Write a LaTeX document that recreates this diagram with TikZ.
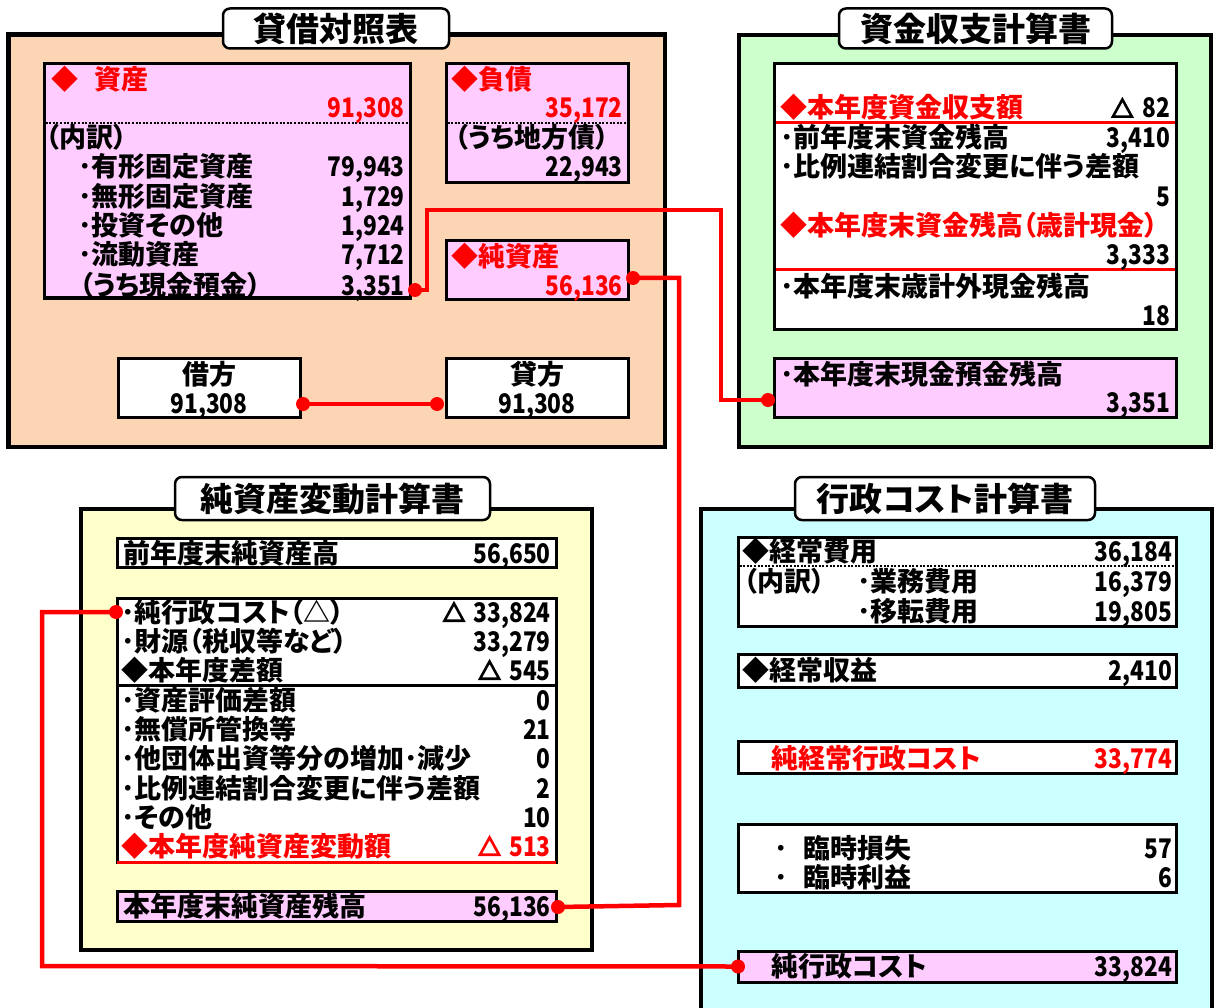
\documentclass[tikz,border=0pt]{standalone}
\usepackage{fontspec}
\setmainfont{Noto Sans CJK JP}[RawFeature={+palt}]
\newcommand{\nm}[1]{\scalebox{0.84}[1]{#1}}
\newcommand{\tri}{\tikz[baseline=0pt, x=1pt, y=1pt]\draw[line width=2.6pt, line join=miter] (1.5,1.3)--(20.5,1.3)--(11,18.5)--cycle;}
\definecolor{peach}{HTML}{FCD5B4}
\definecolor{pinkf}{HTML}{FFCCFF}
\definecolor{greenf}{HTML}{CCFFCC}
\definecolor{yellowf}{HTML}{FFFFCC}
\definecolor{cyanf}{HTML}{CCFFFF}
\definecolor{redc}{HTML}{FF0000}
\tikzset{
  panel/.style={draw=black, line width=4.5pt},
  ibox/.style={draw=black, line width=3pt, inner sep=0pt, outer sep=0pt},
  ttl/.style={draw=black, fill=white, line width=2.5pt, rounded corners=7pt, inner sep=0pt,
              font=\fontsize{33}{36}\selectfont\bfseries},
  lt/.style={anchor=west, inner sep=0pt, text height=20pt, text depth=0pt},
  rt/.style={anchor=east, inner sep=0pt, text height=20pt, text depth=0pt},
  ct/.style={anchor=center, inner sep=0pt, text height=20pt, text depth=0pt},
  rd/.style={text=redc},
  link/.style={draw=redc, line width=4.5pt},
  dotn/.style={circle, fill=redc, inner sep=0pt, minimum size=14pt},
  dotline/.style={draw=black, line width=2pt, dash pattern=on 2pt off 1.6pt},
  redline/.style={draw=redc, line width=3pt}
}
\begin{document}
\begin{tikzpicture}[x=1pt, y=-1pt, font=\fontsize{27}{30}\selectfont\bfseries]
\useasboundingbox (0,0) rectangle (1215,1008);
\fill[white] (0,0) rectangle (1215,1008);

% ---------- panels ----------
\draw[panel, fill=peach] (8.5,34.5) rectangle (665,447);
\draw[panel, fill=greenf] (739,35) rectangle (1211,447);
\draw[panel, fill=yellowf] (81,509) rectangle (592,950);
\draw[panel, fill=cyanf] (701,509) rectangle (1212,1020);

% ---------- titles ----------
\node[ttl, minimum width=226pt, minimum height=40pt] (t1) at (336,28.5) {貸借対照表};
\node[ttl, minimum width=273pt, minimum height=40pt] (t2) at (975.5,28.5) {資金収支計算書};
\node[ttl, minimum width=315pt, minimum height=43pt] (t3) at (332.5,498.5) {純資産変動計算書};
\node[ttl, minimum width=300pt, minimum height=43pt] (t4) at (945,498.5) {行政コスト計算書};

% ---------- balance sheet ----------
\node[ibox, fill=pinkf, minimum width=366pt, minimum height=234pt] (shisan) at (227,181) {};
\node[ibox, fill=pinkf, minimum width=182pt, minimum height=119pt] (fusai) at (537,123.5) {};
\node[ibox, fill=pinkf, minimum width=182pt, minimum height=58pt] (junshisan) at (537,270) {};
\node[ibox, fill=white, minimum width=182pt, minimum height=59pt] (karikata) at (209,387.5) {};
\node[ibox, fill=white, minimum width=182pt, minimum height=59pt] (kashikata) at (537,387.5) {};
\draw[dotline] (45.5,123) -- (408.5,123);
\draw[dotline] (447.5,123) -- (626.5,123);

\node[lt, rd] at (51,80) {◆\hspace{16pt}資産};
\node[rt, rd] at (405,108) {\nm{91,308}};
\node[lt] at (46,138) {（内訳）};
\node[lt] at (78,167) {･有形固定資産};  \node[rt] at (405,167) {\nm{79,943}};
\node[lt] at (78,197) {･無形固定資産};  \node[rt] at (405,197) {\nm{1,729}};
\node[lt] at (78,226) {･投資その他};    \node[rt] at (405,226) {\nm{1,924}};
\node[lt] at (78,255) {･流動資産};      \node[rt] at (405,255) {\nm{7,712}};
\node[lt] at (80,285) {（うち現金預金）}; \node[rt] at (405,285) {\nm{3,351}};

\node[lt, rd] at (451,80) {◆負債};
\node[rt, rd] at (623,108) {\nm{35,172}};
\node[lt] at (455,138) {（うち地方債）};
\node[rt] at (623,167) {\nm{22,943}};

\node[lt, rd] at (451,257) {◆純資産};
\node[rt, rd] at (623,285) {\nm{56,136}};

\node[ct] at (209,374) {借方};  \node[ct] at (209,403) {\nm{91,308}};
\node[ct] at (537,374) {貸方};  \node[ct] at (537,403) {\nm{91,308}};

% ---------- cash flow ----------
\node[ibox, fill=white, minimum width=402pt, minimum height=265pt] (shikin) at (975,196.5) {};
\node[ibox, fill=pinkf, minimum width=402pt, minimum height=59pt] (genkin) at (975,387.5) {};
\draw[redline] (775.5,123) -- (1174.5,123);
\draw[redline] (775.5,270) -- (1174.5,270);

\node[lt, rd] at (780,108) {◆本年度資金収支額};  \node[rt] at (1170,108) {\tri\hspace{9pt}\nm{82}};
\node[lt] at (780,138) {･前年度末資金残高};      \node[rt] at (1170,138) {\nm{3,410}};
\node[lt] at (780,167) {･比例連結割合変更に伴う差額};
\node[rt] at (1170,197) {\nm{5}};
\node[lt, rd] at (780,226) {◆本年度末資金残高（歳計現金）};
\node[rt] at (1170,255) {\nm{3,333}};
\node[lt] at (780,286) {･本年度末歳計外現金残高};
\node[rt] at (1170,315) {\nm{18}};
\node[lt] at (780,374) {･本年度末現金預金残高};
\node[rt] at (1170,402) {\nm{3,351}};

% ---------- net assets change ----------
\node[ibox, fill=white, minimum width=439pt, minimum height=29pt] (zennendo) at (336.5,552.5) {};
\node[ibox, fill=white, minimum width=439pt, minimum height=87pt] (sagaku) at (336.5,641.5) {};
\node[ibox, fill=white, minimum width=439pt, minimum height=177pt] (hendo) at (336.5,773.5) {};
\node[ibox, fill=pinkf, minimum width=439pt, minimum height=30pt] (zandaka) at (336.5,906) {};
\draw[redline] (117,862) -- (556,862);

\node[lt] at (123,553) {前年度末純資産高};            \node[rt] at (551,553) {\nm{56,650}};
\node[lt] at (121,612) {･純行政コスト（△）};          \node[rt] at (551,612) {\tri\hspace{9pt}\nm{33,824}};
\node[lt] at (121,641) {･財源（税収等など）};          \node[rt] at (551,641) {\nm{33,279}};
\node[lt] at (121,670) {◆本年度差額};                  \node[rt] at (551,670) {\tri\hspace{9pt}\nm{545}};
\node[lt] at (121,700) {･資産評価差額};                \node[rt] at (551,700) {\nm{0}};
\node[lt] at (121,729) {･無償所管換等};                \node[rt] at (551,729) {\nm{21}};
\node[lt] at (121,758) {･他団体出資等分の増加･減少};  \node[rt] at (551,758) {\nm{0}};
\node[lt] at (121,788) {･比例連結割合変更に伴う差額};  \node[rt] at (551,788) {\nm{2}};
\node[lt] at (121,817) {･その他};                      \node[rt] at (551,817) {\nm{10}};
\node[lt, rd] at (121,846) {◆本年度純資産変動額};      \node[rt, rd] at (551,846) {\tri\hspace{9pt}\nm{513}};
\node[lt] at (123,906) {本年度末純資産残高};            \node[rt] at (551,906) {\nm{56,136}};

% ---------- administrative cost ----------
\node[ibox, fill=white, minimum width=438pt, minimum height=89pt] (keijohiyo) at (957,581.5) {};
\node[ibox, fill=white, minimum width=438pt, minimum height=33pt] (keijoshueki) at (957,670.5) {};
\node[ibox, fill=white, minimum width=438pt, minimum height=32pt] (junkeijo) at (957,757) {};
\node[ibox, fill=white, minimum width=438pt, minimum height=68pt] (rinji) at (957,858) {};
\node[ibox, fill=pinkf, minimum width=438pt, minimum height=31pt] (jungyosei) at (957,966.5) {};
\draw[dotline] (739.5,566) -- (1174.5,566);

\node[lt] at (742,551) {◆経常費用};   \node[rt] at (1172,551) {\nm{36,184}};
\node[lt] at (744,581) {（内訳）};
\node[lt] at (857,581) {･業務費用};   \node[rt] at (1172,581) {\nm{16,379}};
\node[lt] at (857,611) {･移転費用};   \node[rt] at (1172,611) {\nm{19,805}};
\node[lt] at (742,670) {◆経常収益};   \node[rt] at (1172,670) {\nm{2,410}};
\node[lt, rd] at (771,758) {純経常行政コスト}; \node[rt, rd] at (1172,758) {\nm{33,774}};
\node[lt] at (774,848) {･};  \node[lt] at (803,848) {臨時損失};  \node[rt] at (1172,848) {\nm{57}};
\node[lt] at (774,877) {･};  \node[lt] at (803,877) {臨時利益};  \node[rt] at (1172,877) {\nm{6}};
\node[lt] at (771,966) {純行政コスト}; \node[rt] at (1172,966) {\nm{33,824}};

% ---------- connectors ----------
\coordinate (dA) at ([xshift=5pt, yshift=8pt]shisan.south east);
\coordinate (dB) at ([xshift=-6pt, yshift=-12.5pt]genkin.west);
\coordinate (dC) at ([xshift=5pt, yshift=-8pt]junshisan.east);
\coordinate (dD) at ([xshift=2pt, yshift=-1pt]zandaka.east);
\coordinate (dE) at ([xshift=-1pt]sagaku.north west |- 0,612);
\coordinate (dF) at (jungyosei.west);
\coordinate (dG) at ([xshift=3pt, yshift=-16.5pt]karikata.east);
\coordinate (dH) at ([xshift=-9pt, yshift=-16.5pt]kashikata.west);

\draw[link] (dA) -| (427,210) -- (721,210) |- (dB);
\draw[link] (dC) -| (679,905) -- (dD);
\draw[link] (dE) -| (42,966) -- (dF);
\draw[link] (dG) -- (dH);

\foreach \p in {dA,dB,dC,dD,dE,dF,dG,dH} \node[dotn] at (\p) {};
\end{tikzpicture}
\end{document}
